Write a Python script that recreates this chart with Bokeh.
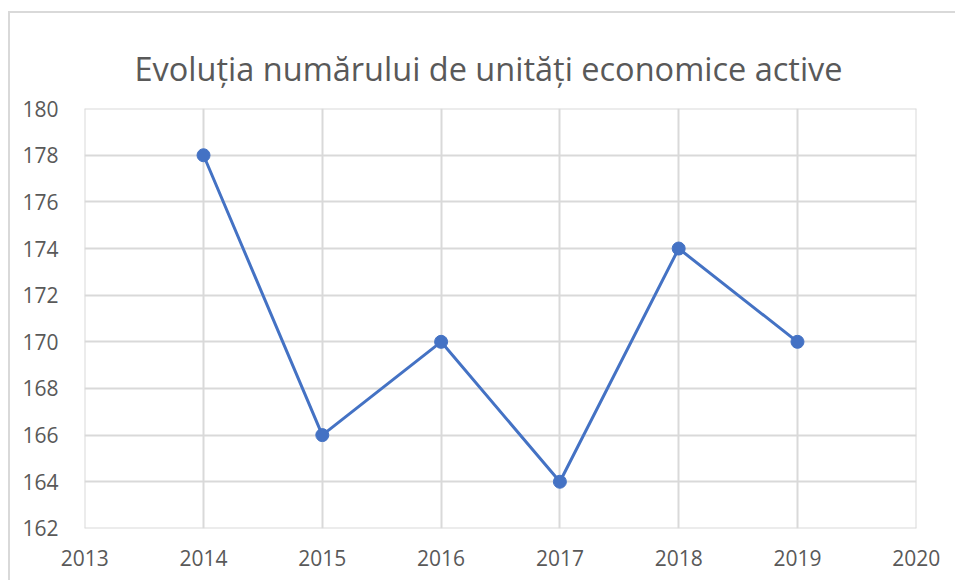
from bokeh.plotting import figure
from bokeh.models import ColumnDataSource, FixedTicker
from bokeh.embed import file_html
from bokeh.resources import INLINE

years = [2014, 2015, 2016, 2017, 2018, 2019]
values = [178, 166, 170, 164, 174, 170]
x_ticks = [2013, 2014, 2015, 2016, 2017, 2018, 2019, 2020]
y_ticks = [162, 164, 166, 168, 170, 172, 174, 176, 178, 180]
title_text = "Evoluția numărului de unități economice active"

FONT = "Open Sans"
TXT = "#595959"
GRID = "#d9d9d9"
BLUE = "#4472C4"

src = ColumnDataSource(dict(x=years, y=values))

p = figure(width=947, height=569, output_backend="svg", toolbar_location=None,
           x_range=(2012.998, 2020.002), y_range=(161.995, 180.005),
           min_border_left=74, min_border_right=41, min_border_top=95, min_border_bottom=54)
p.outline_line_color = None
p.styles = {"border-left": "2px solid #d9d9d9", "border-top": "2px solid #d9d9d9",
            "margin-left": "8px", "margin-top": "11px"}

p.title.text = title_text
p.title.align = "left"
p.title.vertical_align = "middle"
p.title.text_font = FONT
p.title.text_font_size = "32.5px"
p.title.text_font_style = "normal"
p.title.text_color = TXT
p.title.offset = 50
p.title.standoff = 33

p.line("x", "y", source=src, line_color=BLUE, line_width=3)
p.scatter("x", "y", source=src, size=13, fill_color=BLUE, line_color=BLUE)

for ax, ticks in ((p.xaxis, x_ticks), (p.yaxis, y_ticks)):
    ax.ticker = FixedTicker(ticks=ticks)
    ax.axis_line_color = None
    ax.major_tick_line_color = None
    ax.minor_tick_line_color = None
    ax.major_label_text_font = FONT
    ax.major_label_text_font_size = "21px"
    ax.major_label_text_color = TXT
p.xaxis.major_label_standoff = 15
p.yaxis.major_label_standoff = 20

p.xgrid.ticker = FixedTicker(ticks=x_ticks)
p.ygrid.ticker = FixedTicker(ticks=y_ticks)
for g in (p.xgrid, p.ygrid):
    g.grid_line_color = GRID
    g.grid_line_width = 2

open("out.html", "w").write(file_html(p, INLINE))
